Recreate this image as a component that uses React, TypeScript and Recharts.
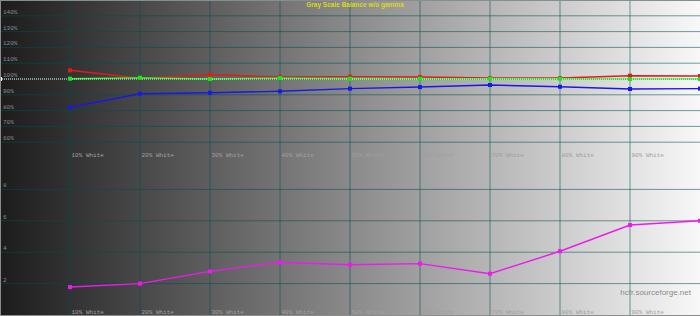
import React from 'react';
import { LineChart, XAxis, YAxis, CartesianGrid, Line, ReferenceLine, ReferenceDot } from 'recharts';

const levels = [10, 20, 30, 40, 50, 60, 70, 80, 90, 100];
const levelTicks = [10, 20, 30, 40, 50, 60, 70, 80, 90];
const redPct = [105.5, 100.5, 102.7, 101.3, 101.5, 101.3, 100.6, 100.6, 102.1, 101.9];
const greenPct = [100.2, 100.8, 100.0, 100.6, 100.2, 100.2, 100.2, 100.2, 100.0, 100.0];
const bluePct = [82.1, 90.7, 91.3, 92.2, 93.9, 94.9, 96.2, 95.1, 93.7, 93.9];
const deltaE = [1.78, 2.0, 2.78, 3.36, 3.2, 3.27, 2.63, 4.06, 5.73, 6.0];
const pctTicks = [60, 70, 80, 90, 100, 110, 120, 130, 140];
const deTicks = [2, 4, 6, 8];

const balanceData = levels.map((l, i) => ({ level: l, red: redPct[i], green: greenPct[i], blue: bluePct[i] }));
const deltaData = levels.map((l, i) => ({ level: l, de: deltaE[i] }));

const gridColor = '#005050';
const monoFont = '"Liberation Mono", "DejaVu Sans Mono", monospace';

const squareDot = (color: string) => (p: any) => (
  <rect key={p.index} x={p.cx - 2} y={p.cy - 2} width={4} height={4} fill={color} />
);

const xTick = (h: number) => (p: any) => (
  <text x={p.x + 1.5} y={h - 1.5} fontSize={6} fontFamily={monoFont} fill="#a0a0a0">
    {p.payload.value + '% White'}
  </text>
);

const yTick = (suffix: string) => (p: any) => (
  <text x={3} y={p.y - 2} fontSize={6} fontFamily={monoFont} fill="#8a8a8a">
    {p.payload.value + suffix}
  </text>
);

export default function App() {
  return (
    <div style={{ position: 'fixed', left: 0, top: 0, width: 700, height: 316, background: 'linear-gradient(to right, #1c1c1c, #f8f8f8)', overflow: 'hidden' }}>
      <div style={{ position: 'absolute', left: 0, top: 0 }}>
        <LineChart width={700} height={158} data={balanceData} margin={{ top: 0, right: 0, left: -1, bottom: -1 }}>
          <CartesianGrid stroke={gridColor} strokeOpacity={0.55} horizontalValues={pctTicks} verticalValues={levelTicks} />
          <XAxis dataKey="level" type="number" domain={[0, 100]} ticks={levelTicks} interval={0} height={1} axisLine={false} tickLine={false} tick={xTick(158)} />
          <YAxis type="number" domain={[50, 150]} ticks={pctTicks} interval={0} width={1} axisLine={false} tickLine={false} tick={yTick('%')} />
          <Line isAnimationActive={false} type="linear" dataKey="blue" stroke="#1818e8" strokeWidth={1.4} dot={squareDot('#1818e8')} activeDot={false} />
          <Line isAnimationActive={false} type="linear" dataKey="red" stroke="#e81818" strokeWidth={1.4} dot={squareDot('#e81818')} activeDot={false} />
          <Line isAnimationActive={false} type="linear" dataKey="green" stroke="#18e818" strokeWidth={1.4} dot={squareDot('#18e818')} activeDot={false} />
          <ReferenceLine y={100} stroke="#ffffff" strokeWidth={1} strokeDasharray="1 1" />
          <ReferenceDot x={0} y={100} r={2} shape={(p: any) => <rect x={p.cx} y={p.cy - 2} width={2} height={4} fill="#ffffff" />} />
        </LineChart>
      </div>
      <div style={{ position: 'absolute', left: 0, top: 158 }}>
        <LineChart width={700} height={157} data={deltaData} margin={{ top: 0, right: 0, left: -1, bottom: -1 }}>
          <CartesianGrid stroke={gridColor} strokeOpacity={0.55} horizontalValues={deTicks} verticalValues={levelTicks} />
          <XAxis dataKey="level" type="number" domain={[0, 100]} ticks={levelTicks} interval={0} height={1} axisLine={false} tickLine={false} tick={xTick(157)} />
          <YAxis type="number" domain={[0, 10]} ticks={deTicks} interval={0} width={1} axisLine={false} tickLine={false} tick={yTick('')} />
          <Line isAnimationActive={false} type="linear" dataKey="de" stroke="#f018f0" strokeWidth={1.4} dot={squareDot('#f018f0')} activeDot={false} />
        </LineChart>
      </div>
      <div style={{ position: 'absolute', left: 255, width: 200, top: 1, textAlign: 'center', fontFamily: '"Liberation Sans", Arial, sans-serif', fontWeight: 'bold', fontSize: 6.5, color: '#d8d818', lineHeight: '8px' }}>
        Gray Scale Balance w/o gamma
      </div>
      <div style={{ position: 'absolute', right: 9, top: 288, fontFamily: '"Liberation Sans", Arial, sans-serif', fontSize: 8, color: '#8c8c8c', lineHeight: '10px' }}>
        hcfr.sourceforge.net
      </div>
      <div style={{ position: 'absolute', left: 0, top: 0, width: 700, height: 316, boxSizing: 'border-box', borderTop: '1px solid #8c8c8c', borderLeft: '1px solid #8c8c8c', borderBottom: '1px solid #8c8c8c', pointerEvents: 'none' }} />
    </div>
  );
}
